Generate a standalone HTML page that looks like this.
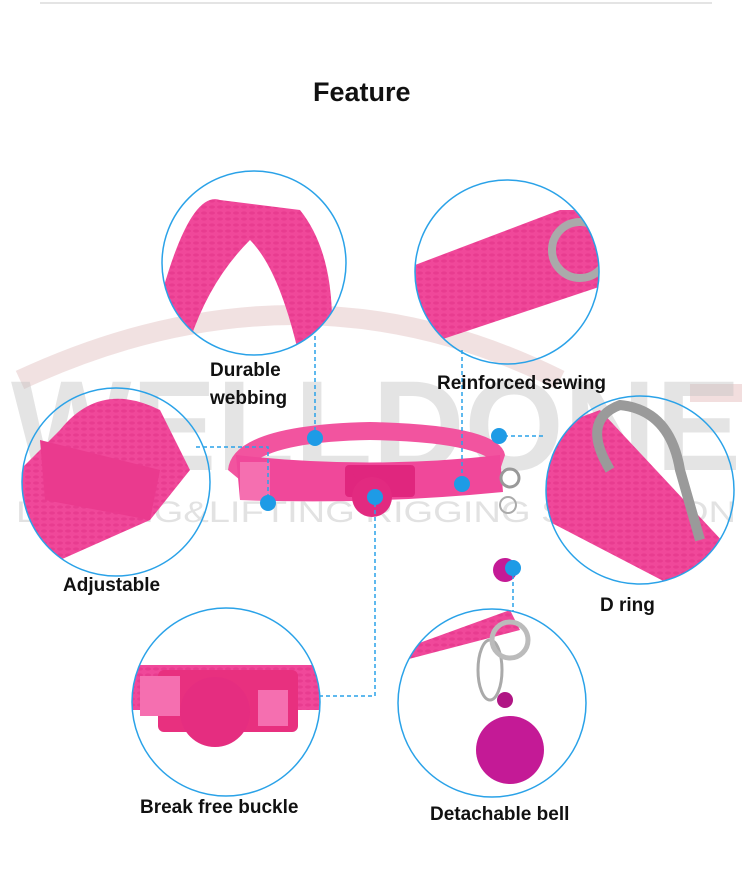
<!DOCTYPE html>
<html><head><meta charset="utf-8"><style>
html,body{margin:0;padding:0;background:#fff;}
body{width:752px;height:871px;overflow:hidden;position:relative;font-family:"Liberation Sans","DejaVu Sans",sans-serif;}
.t{position:absolute;font-weight:bold;color:#111;font-size:19px;white-space:nowrap;}
</style></head><body>
<svg width="752" height="871" style="position:absolute;left:0;top:0">
<defs>
<pattern id="wv" width="8" height="6" patternUnits="userSpaceOnUse">
<rect width="8" height="6" fill="#f0489a"/><ellipse cx="4" cy="3" rx="3" ry="1.6" fill="#e23489" opacity=".6"/>
</pattern>
<clipPath id="c1"><circle cx="254" cy="263" r="92"/></clipPath>
<clipPath id="c2"><circle cx="507" cy="272" r="92"/></clipPath>
<clipPath id="c3"><circle cx="116" cy="482" r="94"/></clipPath>
<clipPath id="c4"><circle cx="640" cy="490" r="94"/></clipPath>
<clipPath id="c5"><circle cx="226" cy="702" r="94"/></clipPath>
<clipPath id="c6"><circle cx="492" cy="703" r="94"/></clipPath>
</defs>
<line x1="40" y1="3" x2="712" y2="3" stroke="#e4e4e4" stroke-width="2"/>
<path d="M20 380 Q300 250 560 380" stroke="#eddada" stroke-width="20" fill="none" opacity=".8"/>
<rect x="690" y="384" width="52" height="18" fill="#f2dede"/>
<text x="376" y="470" text-anchor="middle" font-family="Liberation Sans" font-weight="bold" font-size="128" fill="#c4c4c4" opacity=".45" textLength="730" lengthAdjust="spacingAndGlyphs">WELLDONE</text>
<text x="376" y="522" text-anchor="middle" font-family="Liberation Sans" font-size="30" fill="#cfcfcf" opacity=".6" textLength="720" lengthAdjust="spacingAndGlyphs">LASHING&amp;LIFTING RIGGING SOLUTION</text>

<g clip-path="url(#c1)"><path d="M160 300 Q190 190 220 200 L300 210 Q340 260 330 360 L300 360 Q280 270 250 240 Q210 280 190 340 L160 340Z" fill="url(#wv)"/></g>
<circle cx="254" cy="263" r="92" fill="none" stroke="#2aa2e8" stroke-width="1.5"/>
<g clip-path="url(#c2)"><path d="M415 265 L560 210 L620 210 L620 280 L440 340 L415 340Z" fill="url(#wv)"/>
<circle cx="580" cy="250" r="28" fill="none" stroke="#aaa" stroke-width="8"/></g>
<circle cx="507" cy="272" r="92" fill="none" stroke="#2aa2e8" stroke-width="1.5"/>
<g clip-path="url(#c3)"><path d="M60 430 Q100 380 160 410 L190 470 L150 520 L60 560 L20 600 L20 470Z" fill="url(#wv)"/>
<path d="M40 440 L160 470 L150 520 L45 500Z" fill="#ea3a8e"/></g>
<circle cx="116" cy="482" r="94" fill="none" stroke="#2aa2e8" stroke-width="1.5"/>
<g clip-path="url(#c4)"><path d="M546 430 L600 410 L740 560 L700 600 L546 520Z" fill="url(#wv)"/>
<path d="M610 470 Q580 420 620 405 Q670 410 680 470 L700 540" fill="none" stroke="#9a9a9a" stroke-width="10"/></g>
<circle cx="640" cy="490" r="94" fill="none" stroke="#2aa2e8" stroke-width="1.5"/>
<g clip-path="url(#c5)"><rect x="130" y="665" width="200" height="45" fill="url(#wv)"/>
<rect x="158" y="670" width="140" height="62" rx="6" fill="#e8307f"/>
<circle cx="215" cy="712" r="35" fill="#e52d80"/>
<rect x="258" y="690" width="30" height="36" fill="#f56fb0"/><rect x="140" y="676" width="40" height="40" fill="#f56fb0"/></g>
<circle cx="226" cy="702" r="94" fill="none" stroke="#2aa2e8" stroke-width="1.5"/>
<g clip-path="url(#c6)"><path d="M400 650 L510 610 L520 630 L405 660Z" fill="url(#wv)"/>
<ellipse cx="490" cy="670" rx="12" ry="30" fill="none" stroke="#aaa" stroke-width="3"/>
<circle cx="510" cy="640" r="18" fill="none" stroke="#bbb" stroke-width="5"/>
<circle cx="510" cy="750" r="34" fill="#c41a96"/><circle cx="505" cy="700" r="8" fill="#b01684"/></g>
<circle cx="492" cy="703" r="94" fill="none" stroke="#2aa2e8" stroke-width="1.5"/>

<!-- collar: ring band -->
<path d="M228 470 Q232 425 370 422 Q500 425 505 455 L500 470 Q490 442 370 440 Q250 442 240 480Z" fill="#f2549f"/>
<path d="M236 455 Q370 470 500 455 L503 492 Q370 505 240 500Z" fill="#f0489a"/>
<rect x="240" y="462" width="30" height="38" fill="#f56fb0"/>
<rect x="388" y="465" width="24" height="30" fill="#f56fb0"/>
<rect x="345" y="465" width="70" height="32" rx="4" fill="#e0267e"/>
<circle cx="372" cy="497" r="20" fill="#e22a80"/>
<circle cx="360" cy="472" r="7" fill="#e0267e"/><circle cx="384" cy="472" r="7" fill="#e0267e"/>
<circle cx="510" cy="478" r="9" fill="none" stroke="#999" stroke-width="3"/>
<circle cx="508" cy="505" r="8" fill="none" stroke="#aaa" stroke-width="2"/>
<circle cx="505" cy="570" r="12" fill="#c41a96"/>

<g stroke="#2aa2e8" stroke-width="1.5" stroke-dasharray="4,3" fill="none">
<polyline points="315,336 315,437"/>
<polyline points="196,447 268,447 268,503"/>
<polyline points="462,350 462,484"/>
<polyline points="497,436 546,436"/>
<polyline points="319,696 375,696 375,497"/>
<polyline points="513,568 513,612"/>
</g>
<g fill="#1e9be6">
<circle cx="315" cy="438" r="8"/><circle cx="268" cy="503" r="8"/><circle cx="375" cy="497" r="8"/>
<circle cx="462" cy="484" r="8"/><circle cx="499" cy="436" r="8"/><circle cx="513" cy="568" r="8"/>
</g>
</svg>
<div class="t" style="left:313px;top:77px;font-size:27px;">Feature</div>
<div class="t" style="left:210px;top:357px;line-height:28px;">Durable<br>webbing</div>
<div class="t" style="left:437px;top:373px;">Reinforced sewing</div>
<div class="t" style="left:63px;top:575px;">Adjustable</div>
<div class="t" style="left:600px;top:595px;">D ring</div>
<div class="t" style="left:140px;top:797px;">Break free buckle</div>
<div class="t" style="left:430px;top:804px;">Detachable bell</div>
</body></html>
